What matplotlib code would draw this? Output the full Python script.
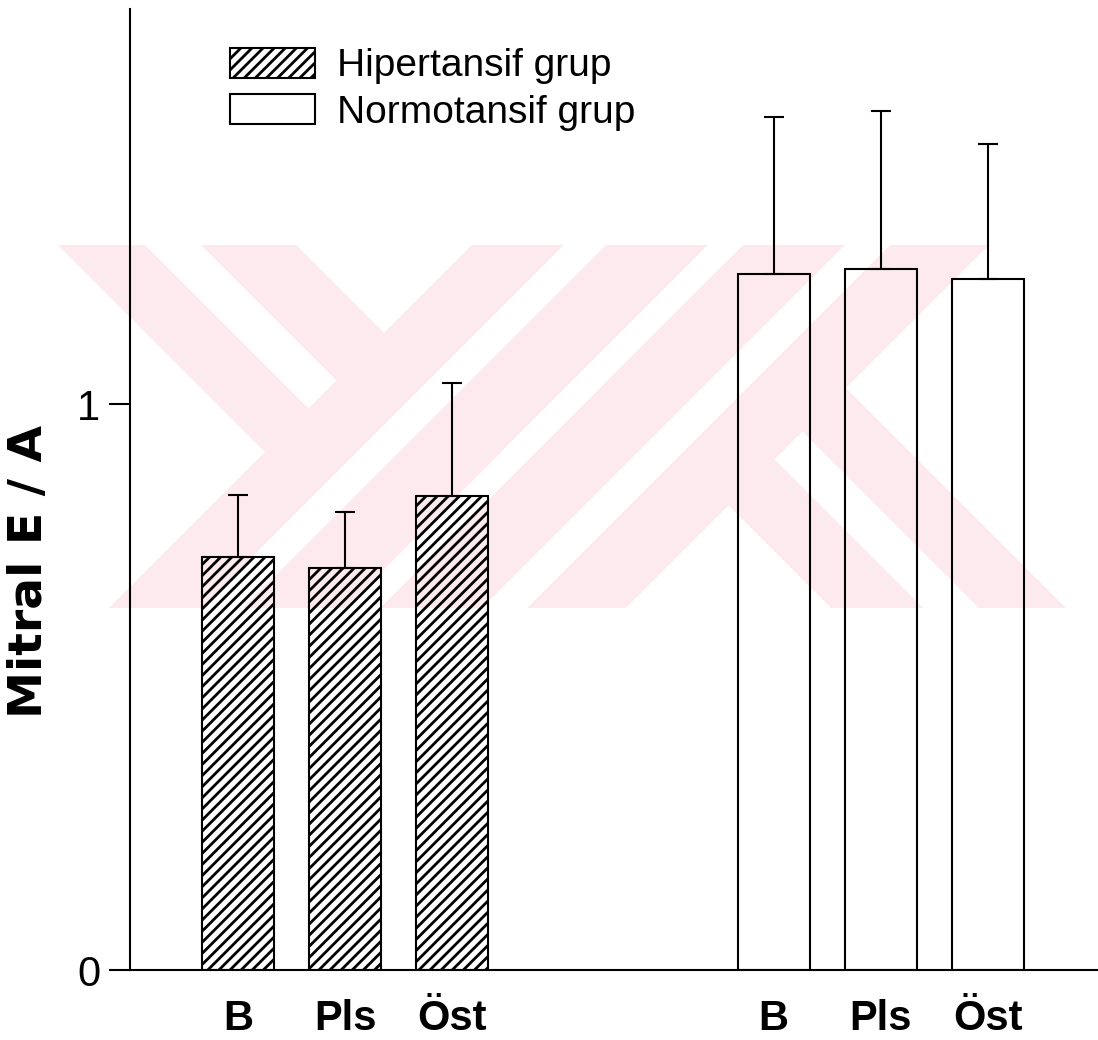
import matplotlib
matplotlib.use('Agg')
import matplotlib.pyplot as plt
from matplotlib.patches import Polygon, Patch
import numpy as np

# ---- data ----
categories = ['B', 'Pls', 'Öst']
hyper_mean = [0.730, 0.710, 0.838]
hyper_err = [0.109, 0.099, 0.200]
normo_mean = [1.230, 1.240, 1.222]
normo_err = [0.278, 0.278, 0.238]
yticks = [0, 1]
ytick_labels = ['0', '1']
series_labels = ['Hipertansif grup', 'Normotansif grup']
ylabel = 'Mitral E / A'

W, H = 1098, 1040
plt.rcParams['hatch.linewidth'] = 2.0
plt.rcParams['font.family'] = ['Liberation Sans', 'DejaVu Sans']
fig = plt.figure(figsize=(W / 100, H / 100), dpi=100)

# ---- faint watermark (decoration), pixel coords -> figure fraction ----
def to_fig(pts):
    return [(x / W, 1 - y / H) for x, y in pts]

pink = '#fdeaee'
pink_polys = [
    [(58, 245), (296, 245), (502, 451), (383, 570)],          # "\" band, left X
    [(472, 245), (708, 245), (345, 608), (109, 608)],         # "/" band, left X
    [(743, 245), (989, 245), (626, 608), (380, 608)],         # "/" band, right X
    [(831, 608), (1066, 608), (723, 265), (605.5, 382.5)],    # "\" band, right X
]
white_polys = [
    [(145, 245), (201, 245), (336.5, 380.5), (308.5, 408.5)],
    [(564, 245), (606, 245), (243, 608), (201, 608)],
    [(845, 245), (890, 245), (527, 608), (482, 608)],
    [(923, 608), (979, 608), (802.5, 431.5), (774.5, 459.5)],
]
for p in pink_polys:
    fig.add_artist(Polygon(to_fig(p), closed=True, transform=fig.transFigure,
                           facecolor=pink, edgecolor='none', zorder=-2))
for p in white_polys:
    fig.add_artist(Polygon(to_fig(p), closed=True, transform=fig.transFigure,
                           facecolor='white', edgecolor='none', zorder=-1))

# ---- axes ----
ax = fig.add_axes([130 / W, 1 - 970 / H, (1097 - 130) / W, (970 - 9) / H])
ax.set_facecolor('none')

x1 = np.arange(len(categories))
x2 = x1 + 5
bw = 0.672

ax.bar(x1, hyper_mean, width=bw, facecolor='none', edgecolor='black',
       linewidth=1.5, hatch='///', zorder=2)
ax.bar(x2, normo_mean, width=bw, facecolor='none', edgecolor='black',
       linewidth=1.5, zorder=2)
ax.errorbar(x1, hyper_mean, yerr=[np.zeros(len(x1)), hyper_err], fmt='none',
            ecolor='black', elinewidth=1.5, capsize=7.5, capthick=1.5, zorder=3)
ax.errorbar(x2, normo_mean, yerr=[np.zeros(len(x2)), normo_err], fmt='none',
            ecolor='black', elinewidth=1.5, capsize=7.5, capthick=1.5, zorder=3)

ax.set_xlim(-1.008, 8.02)
ax.set_ylim(0, 1.699)

for s in ['top', 'right']:
    ax.spines[s].set_visible(False)
for s in ['left', 'bottom']:
    ax.spines[s].set_linewidth(1.5)

ax.set_yticks(yticks)
ax.set_yticklabels(ytick_labels)
ax.tick_params(axis='y', direction='out', length=15, width=1.5, pad=6.5,
               labelsize=30)

ax.set_xticks(np.concatenate([x1, x2]))
ax.set_xticklabels(categories * 2, fontsize=30, fontweight='bold')
ax.tick_params(axis='x', length=0, pad=43.0)
for lab in ax.get_xticklabels():
    lab.set_verticalalignment('baseline')

ax.set_ylabel(ylabel, fontsize=34, fontweight='bold', family=['DejaVu Sans'])
ax.yaxis.set_label_coords(-0.0807, 0.415)

handles = [Patch(facecolor='none', edgecolor='black', hatch='///', linewidth=1.5),
           Patch(facecolor='white', edgecolor='black', linewidth=1.5)]
fig.legend(handles, series_labels, loc='upper left',
           bbox_to_anchor=(230 / W, 1 - 48 / H), bbox_transform=fig.transFigure,
           frameon=False, fontsize=28, handlelength=2.19, handleheight=0.8,
           handletextpad=0.57, labelspacing=0.25, borderpad=0, borderaxespad=0)

fig.savefig('out.png', dpi=100)
